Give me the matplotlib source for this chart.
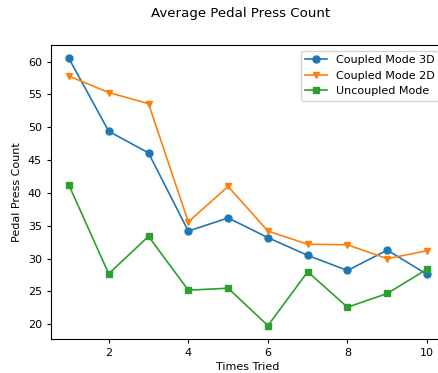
import numpy as np
import matplotlib
matplotlib.use("Agg")
import matplotlib.pyplot as plt

#Data
times = [1, 2, 3, 4, 5, 6, 7, 8, 9, 10]
coupled_3d = [60.5, 49.4, 46.1, 34.2, 36.2, 33.2, 30.5, 28.2, 31.3, 27.6]
coupled_2d = [57.8, 55.3, 53.6, 35.6, 41.0, 34.2, 32.2, 32.1, 30.0, 31.2]
uncoupled = [41.2, 27.7, 33.4, 25.2, 25.5, 19.8, 28.0, 22.6, 24.7, 28.4]

#Reference looks like a default figure shrunk by ~0.8
plt.rcParams['font.size'] = 8
plt.rcParams['lines.linewidth'] = 1.2
plt.rcParams['lines.markersize'] = 5
plt.rcParams['axes.linewidth'] = 0.8

fig = plt.figure(figsize=(4.38, 3.73), dpi=100)
#Axes hangs past the right edge like the cropped original
ax = fig.add_axes([51 / 438, 34 / 373, 394 / 438, 294 / 373])

ax.plot(times, coupled_3d, marker='o', label='Coupled Mode 3D')
ax.plot(times, coupled_2d, marker='v', label='Coupled Mode 2D')
ax.plot(times, uncoupled, marker='s', label='Uncoupled Mode')

ax.tick_params(length=3, width=0.8)
ax.set_xlabel('Times Tried', labelpad=3)
ax.set_ylabel('Pedal Press Count')
ax.legend(loc='upper right')

fig.text(241 / 438, 1 - 13 / 373, 'Average Pedal Press Count',
         ha='center', va='center', fontsize=9.6)

fig.savefig('out.png', dpi=100)
plt.close()
